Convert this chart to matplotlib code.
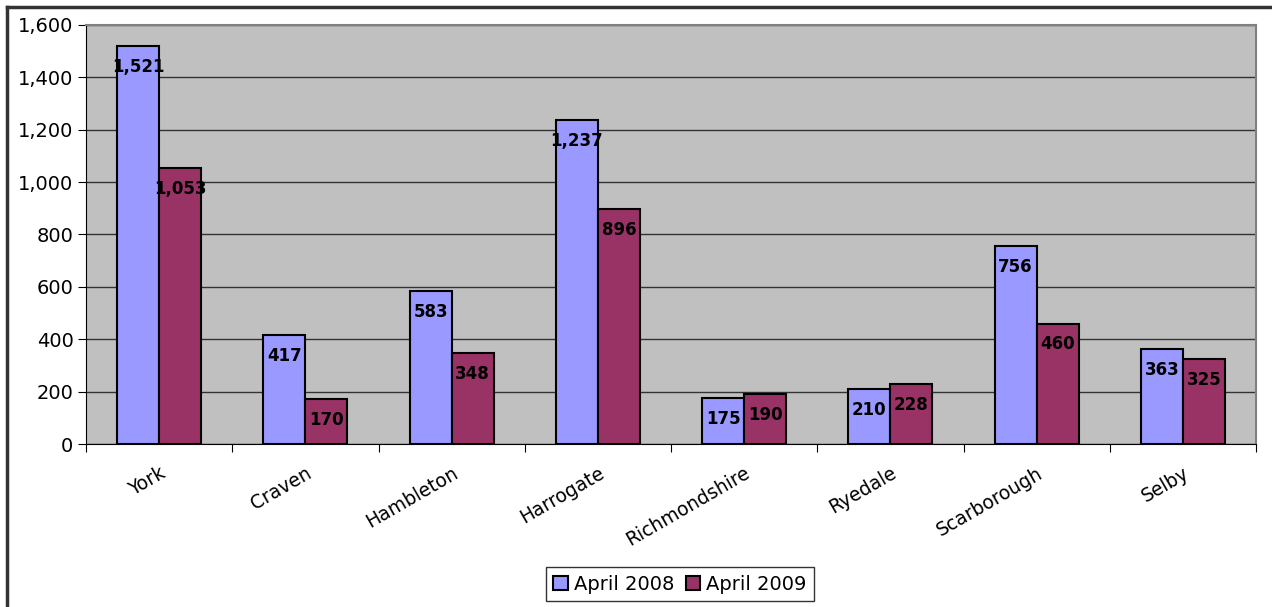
import matplotlib.pyplot as plt
import numpy as np
from matplotlib.lines import Line2D

districts = ['York', 'Craven', 'Hambleton', 'Harrogate', 'Richmondshire',
             'Ryedale', 'Scarborough', 'Selby']
april_2008 = [1521, 417, 583, 1237, 175, 210, 756, 363]
april_2009 = [1053, 170, 348, 896, 190, 228, 460, 325]
yticks = [0, 200, 400, 600, 800, 1000, 1200, 1400, 1600]

plt.rcParams['font.family'] = ['DejaVu Sans']

fig = plt.figure(figsize=(12.72, 6.07), dpi=100)
ax = fig.add_axes([86/1272, 1-444/607, (1256-86)/1272, (444-25)/607])
ax.set_facecolor('#C0C0C0')

x = np.arange(len(districts))
w = 0.287
b1 = ax.bar(x - w/2, april_2008, w, color='#9999FF', edgecolor='black', linewidth=1.5,
            label='April 2008', zorder=3)
b2 = ax.bar(x + w/2, april_2009, w, color='#993366', edgecolor='black', linewidth=1.5,
            label='April 2009', zorder=3)

for bars, vals in ((b1, april_2008), (b2, april_2009)):
    for r, v in zip(bars, vals):
        ax.annotate(f'{v:,}', (r.get_x() + r.get_width()/2, v), xytext=(0, -15),
                    textcoords='offset points', ha='center', va='center',
                    fontsize=12, fontweight='bold', color='black', zorder=4)

ax.set_xlim(-0.5, len(districts) - 0.5)
ax.set_ylim(0, 1600)
ax.set_yticks(yticks)
ax.set_yticklabels([f'{t:,}' for t in yticks], fontsize=14)
ax.yaxis.grid(True, color='#333333', linewidth=1, zorder=0)
ax.set_axisbelow(True)

ax.set_xticks(np.arange(len(districts) + 1) - 0.5, minor=False)
ax.set_xticklabels([])
ax.set_xticks(x, minor=True)
ax.set_xticklabels(districts, minor=True, rotation=30, ha='right', rotation_mode='anchor',
                   fontsize=13.5)
ax.tick_params(axis='x', which='minor', length=0, pad=14)
ax.tick_params(axis='x', which='major', length=6, direction='out', color='black')
ax.tick_params(axis='y', length=6, direction='out', color='black', pad=3)

for s in ['top', 'right']:
    ax.spines[s].set_color('#808080')
    ax.spines[s].set_linewidth(1.5)
ax.spines['left'].set_color('black')
ax.spines['bottom'].set_color('black')

leg = fig.legend(loc='lower center', bbox_to_anchor=(680/1272, -4/607), ncol=2, fontsize=14,
                 frameon=True, fancybox=False, edgecolor='black', handlelength=0.75,
                 handleheight=0.75, handletextpad=0.3, columnspacing=0.6, borderpad=0.4)
leg.get_frame().set_linewidth(1)

# outer chart frame
fig.add_artist(Line2D([7/1272, 1], [1-7/607, 1-7/607], color='#333333', linewidth=2.5))
fig.add_artist(Line2D([7/1272, 7/1272], [0, 1-7/607], color='#333333', linewidth=2.5))

fig.savefig('out.png', dpi=100)
